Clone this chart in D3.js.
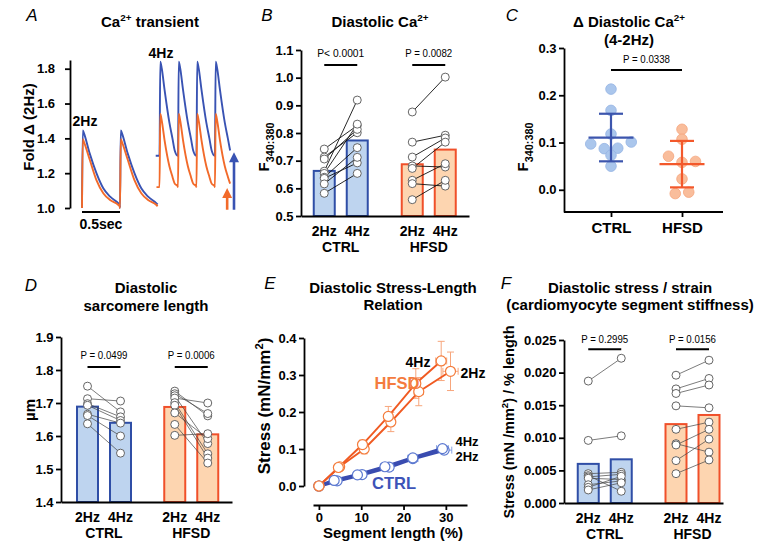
<!DOCTYPE html>
<html><head><meta charset="utf-8">
<script src="https://cdn.jsdelivr.net/npm/d3@7/dist/d3.min.js"></script>
<style>
body{margin:0;background:#fff;}
svg text{font-family:"Liberation Sans",Arial,Helvetica,sans-serif;}
</style></head>
<body>
<svg id="chart" width="760" height="557"></svg>
<script>
// ---------------- DATA ----------------
const groups = ["CTRL", "HFSD"];
const freqs = ["2Hz", "4Hz"];

// Panel A: Ca2+ transient (fold change vs 2Hz), one beat shape per rate
const foldTicks = [1.0, 1.2, 1.4, 1.6, 1.8];
const beatTime2Hz = [0, 0.01, 0.025, 0.1, 0.19, 0.28, 0.37, 0.48, 0.495];
const beatCtrl2Hz = [1.0, 1.445, 1.43, 1.315, 1.2, 1.113, 1.065, 1.027, 1.02];
const beatHfsd2Hz = [1.0, 1.395, 1.38, 1.28, 1.16, 1.085, 1.046, 1.017, 1.01];
const beatTime4Hz = [0, 0.01, 0.03, 0.066, 0.13, 0.17, 0.2, 0.24];
const beatCtrl4Hz = [1.30, 1.84, 1.80, 1.68, 1.49, 1.40, 1.33, 1.30];
const beatHfsd4Hz = [1.12, 1.54, 1.50, 1.39, 1.24, 1.18, 1.14, 1.125];
const stimTimes2Hz = [0, 0.5];
const stimTimes4Hz = [1.02, 1.263, 1.506, 1.749];
const traceEnd4Hz = 1.95;
const arrowTimes = [1.91, 2.0];      // HFSD, CTRL
const arrowTops = [1.115, 1.32];

// Panel B: diastolic Ca2+ (F340:380)
const caTicks = [0.5, 0.6, 0.7, 0.8, 0.9, 1.0, 1.1];
const caCtrl2 = [0.742, 0.713, 0.706, 0.662, 0.654, 0.640, 0.636, 0.616, 0.582];
const caCtrl4 = [0.827, 0.801, 0.813, 0.919, 0.832, 0.747, 0.692, 0.712, 0.654];
const caHfsd2 = [0.876, 0.767, 0.713, 0.681, 0.672, 0.629, 0.617, 0.559];
const caHfsd4 = [1.002, 0.792, 0.782, 0.677, 0.767, 0.689, 0.608, 0.629];
const caMeans = [[0.663, 0.773], [0.687, 0.740]];
const caP = ["P< 0.0001", "P = 0.0082"];

// Panel C: delta diastolic Ca2+ (4-2Hz)
const deltaTicks = [0.0, 0.1, 0.2, 0.3];
const deltaCtrl = [0.213, 0.168, 0.118, 0.097, 0.087, 0.088, 0.101, 0.073, 0.050];
const deltaHfsd = [0.128, 0.107, 0.071, 0.058, 0.060, 0.023, -0.008, -0.005];
const deltaP = "P = 0.0338";

// Panel D: diastolic sarcomere length (µm)
const slTicks = [1.4, 1.5, 1.6, 1.7, 1.8, 1.9];
const slCtrl2 = [1.751, 1.713, 1.698, 1.693, 1.666, 1.662, 1.637];
const slCtrl4 = [1.673, 1.706, 1.658, 1.647, 1.639, 1.600, 1.548];
const slHfsd2 = [1.736, 1.728, 1.722, 1.715, 1.701, 1.693, 1.670, 1.635, 1.602];
const slHfsd4 = [1.661, 1.668, 1.577, 1.700, 1.546, 1.533, 1.592, 1.518, 1.607];
const slMeans = [[1.689, 1.640], [1.688, 1.605]];
const slP = ["P = 0.0499", "P = 0.0006"];

// Panel E: stress-length relation (mean ± SEM)
const lenTicks = [0, 10, 20, 30];
const stressTicks = [0, 0.1, 0.2, 0.3, 0.4];
const slrHfsd2Len = [0, 4.9, 10.7, 17.0, 23.6, 31.1];
const slrHfsd2Stress = [0, 0.052, 0.100, 0.173, 0.255, 0.310];
const slrHfsd2LenErr = [0, 0.5, 0.7, 0.9, 1.1, 1.8];
const slrHfsd2StressErr = [0, 0.004, 0.013, 0.026, 0.038, 0.052];
const slrHfsd4Len = [0, 4.6, 10.3, 16.4, 22.9, 28.9];
const slrHfsd4Stress = [0, 0.050, 0.112, 0.188, 0.277, 0.338];
const slrHfsd4LenErr = [0, 0.5, 0.6, 0.8, 1.0, 1.3];
const slrHfsd4StressErr = [0, 0.004, 0.012, 0.027, 0.040, 0.053];
const slrCtrl2Len = [0, 4.3, 10.2, 16.6, 22.2, 29.6];
const slrCtrl2Stress = [0, 0.014, 0.031, 0.051, 0.074, 0.097];
const slrCtrl2LenErr = [0, 0.8, 0.9, 1.0, 1.2, 1.8];
const slrCtrl2StressErr = [0, 0.002, 0.003, 0.004, 0.007, 0.010];
const slrCtrl4Len = [0, 3.6, 9.1, 15.6, 22.2, 29.2];
const slrCtrl4Stress = [0, 0.015, 0.030, 0.052, 0.076, 0.101];
const slrCtrl4LenErr = [0, 0.7, 0.8, 1.0, 1.1, 1.4];
const slrCtrl4StressErr = [0, 0.002, 0.003, 0.004, 0.006, 0.009];

// Panel F: stress / strain
const stTicks = [0, 0.005, 0.010, 0.015, 0.020, 0.025];
const stCtrl2 = [0.0187, 0.0096, 0.0045, 0.0042, 0.0040, 0.0038, 0.0028, 0.0024, 0.0020];
const stCtrl4 = [0.0222, 0.0103, 0.0047, 0.0018, 0.0044, 0.0036, 0.0034, 0.0041, 0.0031];
const stHfsd2 = [0.0196, 0.0175, 0.0168, 0.0149, 0.0113, 0.0091, 0.0089, 0.0065, 0.0045];
const stHfsd4 = [0.0219, 0.0191, 0.0181, 0.0146, 0.0124, 0.0078, 0.0113, 0.0098, 0.0066];
const stMeans = [[0.0060, 0.0067], [0.0121, 0.0135]];
const stP = ["P = 0.2995", "P = 0.0156"];

// ---------------- DRAWING ----------------
const svg = d3.select("#chart");
const C_BLUE = "#2f4ea6", C_ORANGE = "#f0502a";
const F_BLUE = "#bed4ef", F_ORANGE = "#fdd5b0";
const T_BLUE = "#3953b3", T_ORANGE = "#f26a2a";

function styleAxis(a, fs) {
  a.attr("font-family", null).attr("font-size", null);
  a.select(".domain").attr("stroke", "#000").attr("stroke-width", 1.8);
  a.selectAll(".tick line").attr("stroke", "#000").attr("stroke-width", 1.8);
  a.selectAll(".tick text").attr("fill", "#000").attr("font-size", fs || 13).attr("font-weight", "bold");
  return a;
}
function yAxis(x, scale, ticks, fmt, pad) {
  const a = svg.append("g").attr("transform", `translate(${x},0)`)
    .call(d3.axisLeft(scale).tickValues(ticks).tickFormat(d3.format(fmt))
      .tickSize(5).tickPadding(pad === undefined ? 2.5 : pad).tickSizeOuter(0));
  return styleAxis(a);
}
function hLine(x0, x1, y) {
  const s = d3.scaleLinear().range([x0, x1]);
  const a = svg.append("g").attr("transform", `translate(0,${y})`)
    .call(d3.axisBottom(s).tickValues([]).tickSizeOuter(0));
  styleAxis(a);
}
function txt(x, y, parts, o = {}) {
  const size = o.size || 14;
  const t = svg.append("text")
    .attr("text-anchor", o.anchor || "middle")
    .attr("font-size", size).attr("font-weight", o.weight || "bold")
    .attr("font-style", o.style || "normal")
    .attr("fill", o.fill || "#000");
  if (o.rotate) t.attr("transform", `translate(${x},${y}) rotate(-90)`);
  else t.attr("x", x).attr("y", y);
  if (o.length) t.attr("textLength", o.length).attr("lengthAdjust", "spacingAndGlyphs");
  if (typeof parts === "string") parts = [[parts]];
  let shift = 0;
  parts.forEach(p => {
    let target = 0, fs = size;
    if (p[1] === "sup") { target = -size * 0.4; fs = size * 0.66; }
    if (p[1] === "sub") { target = size * 0.3; fs = size * 0.72; }
    const ts = t.append("tspan").text(p[0]).attr("font-size", fs);
    if (target - shift !== 0) ts.attr("dy", target - shift);
    shift = target;
  });
  return t;
}

// panel letters
[["A", 32, 21], ["B", 267, 21], ["C", 512, 21], ["D", 31, 291], ["E", 270, 289], ["F", 506, 289]]
  .forEach(l => txt(l[1], l[2], l[0], {size: 17, weight: "normal", style: "italic"}));

// ===== Panel A =====
(function () {
  const y = d3.scaleLinear().domain([1.0, 1.85]).range([208, 60]);
  const x = d3.scaleLinear().domain([0, 1]).range([82, 158]);
  yAxis(70, y, foldTicks, ".1f", 10);
  function trace(starts, times, vals, lead, end) {
    const pts = [];
    if (lead) pts.push([starts[0] - lead, vals[0]]);
    starts.forEach(s => times.forEach((t, i) => {
      if (end === undefined || s + t <= end + 1e-9) pts.push([s + t, vals[i]]);
    }));
    return pts;
  }
  const line = d3.line().x(d => x(d[0])).y(d => y(d[1])).curve(d3.curveMonotoneX);
  const series = [
    [trace(stimTimes2Hz, beatTime2Hz, beatCtrl2Hz), T_BLUE],
    [trace(stimTimes4Hz, beatTime4Hz, beatCtrl4Hz, 0.05, traceEnd4Hz), T_BLUE],
    [trace(stimTimes2Hz, beatTime2Hz, beatHfsd2Hz), T_ORANGE],
    [trace(stimTimes4Hz, beatTime4Hz, beatHfsd4Hz, 0.04, traceEnd4Hz), T_ORANGE]
  ];
  series.forEach(s => svg.append("path").attr("d", line(s[0])).attr("fill", "none")
    .attr("stroke", s[1]).attr("stroke-width", 1.9).attr("stroke-linejoin", "round"));
  // arrows
  [T_ORANGE, T_BLUE].forEach((c, i) => {
    const ax = x(arrowTimes[i]), top = y(arrowTops[i]), bot = y(0.99);
    svg.append("line").attr("x1", ax).attr("x2", ax).attr("y1", bot).attr("y2", top + 8)
      .attr("stroke", c).attr("stroke-width", 2.6);
    svg.append("path").attr("d", `M${ax - 5},${top + 10}L${ax},${top}L${ax + 5},${top + 10}Z`).attr("fill", c);
  });
  // scale bar 0.5 s
  svg.append("line").attr("x1", x(0)).attr("x2", x(0.5)).attr("y1", y(1.0) + 4).attr("y2", y(1.0) + 4)
    .attr("stroke", "#000").attr("stroke-width", 2);
  txt(x(0.25), 229, "0.5sec", {size: 14});
  txt(85, 126, "2Hz", {size: 14});
  txt(161, 58, "4Hz", {size: 14});
  txt(150, 27, [["Ca"], ["2+", "sup"], [" transient"]], {size: 15});
  txt(34, 127, "Fold Δ (2Hz)", {size: 15, rotate: true});
})();

// ===== bar panels (B, D, F) =====
function barPanel(o) {
  const y = d3.scaleLinear().domain(o.yDomain).range(o.yRange);
  const gx = d3.scalePoint().domain(groups).range(o.groupRange);
  const fx = d3.scalePoint().domain(freqs).range([-16.5, 16.5]);
  const bw = 21;
  groups.forEach((grp, gi) => {
    const xs = freqs.map(f => gx(grp) + fx(f));
    freqs.forEach((f, fi) => {
      const m = o.means[gi][fi];
      svg.append("rect").attr("x", xs[fi] - bw / 2).attr("y", y(m)).attr("width", bw)
        .attr("height", y(o.yDomain[0]) - y(m))
        .attr("fill", [F_BLUE, F_ORANGE][gi]).attr("stroke", [C_BLUE, C_ORANGE][gi]).attr("stroke-width", 2);
    });
    const a = o.values[gi][0], b = o.values[gi][1];
    svg.append("g").selectAll("line").data(a).join("line")
      .attr("x1", xs[0]).attr("x2", xs[1]).attr("y1", d => y(d)).attr("y2", (d, i) => y(b[i]))
      .attr("stroke", o.lineColor).attr("stroke-width", o.lineWidth);
    [a, b].forEach((arr, k) => svg.append("g").selectAll("circle").data(arr).join("circle")
      .attr("cx", xs[k]).attr("cy", d => y(d)).attr("r", 4)
      .attr("fill", "#fff").attr("stroke", "#555").attr("stroke-width", 0.9));
    svg.append("line").attr("x1", xs[0]).attr("x2", xs[1]).attr("y1", y(o.pLine)).attr("y2", y(o.pLine))
      .attr("stroke", "#000").attr("stroke-width", 2);
    txt(gx(grp), y(o.pText), o.pvals[gi], {size: 11, weight: "normal", length: 47});
    freqs.forEach((f, fi) => txt(xs[fi], y(o.yDomain[0]) + 19.5, f, {size: 14}));
    txt(gx(grp), y(o.yDomain[0]) + 36, grp, {size: 14});
  });
  yAxis(o.axisX, y, o.ticks, o.fmt);
  hLine(o.axisX, o.axisEnd, y(o.yDomain[0]));
  return y;
}

// B
barPanel({yDomain: [0.5, 1.1], yRange: [216, 50], groupRange: [340.75, 428.75], axisX: 301, axisEnd: 469,
  ticks: caTicks, fmt: ".1f", means: caMeans, values: [[caCtrl2, caCtrl4], [caHfsd2, caHfsd4]],
  lineColor: "#111", lineWidth: 0.9, pLine: 1.046, pText: 1.075, pvals: caP});
txt(380, 27, [["Diastolic Ca"], ["2+", "sup"]], {size: 15});
txt(269, 147, [["F"], ["340:380", "sub"]], {size: 15, rotate: true});

// D
barPanel({yDomain: [1.4, 1.9], yRange: [502, 337], groupRange: [104, 191.25], axisX: 61, axisEnd: 232,
  ticks: slTicks, fmt: ".1f", means: slMeans, values: [[slCtrl2, slCtrl4], [slHfsd2, slHfsd4]],
  lineColor: "#444", lineWidth: 0.7, pLine: 1.809, pText: 1.833, pvals: slP});
txt(146, 293, "Diastolic", {size: 15});
txt(146, 311, "sarcomere length", {size: 15});
txt(35, 410, "µm", {size: 15, rotate: true});

// F
barPanel({yDomain: [0, 0.025], yRange: [503, 340], groupRange: [604.75, 692.5], axisX: 564, axisEnd: 723,
  ticks: stTicks, fmt: ".3f", means: stMeans, values: [[stCtrl2, stCtrl4], [stHfsd2, stHfsd4]],
  lineColor: "#444", lineWidth: 0.7, pLine: 0.0236, pText: 0.02453, pvals: stP});
txt(630, 293, "Diastolic stress / strain", {size: 15});
txt(630, 310, "(cardiomyocyte segment stiffness)", {size: 15});
txt(514, 422, [["Stress (mN /mm"], ["2", "sup"], [") / % length"]], {size: 14.5, rotate: true});

// ===== Panel C =====
(function () {
  const y = d3.scaleLinear().domain([-0.047, 0.3]).range([212, 48]);
  const x = d3.scalePoint().domain(groups).range([611, 682]);
  function swarm(values, step, gapPx) {
    const idx = values.map((v, i) => i).sort((a, b) => values[a] - values[b]);
    const bins = []; let cur = [idx[0]];
    for (let k = 1; k < idx.length; k++) {
      if (Math.abs(y(values[idx[k]]) - y(values[idx[k - 1]])) < gapPx) cur.push(idx[k]);
      else { bins.push(cur); cur = [idx[k]]; }
    }
    bins.push(cur);
    const off = new Array(values.length).fill(0);
    bins.forEach(b => { b.sort((p, q) => p - q); b.forEach((i, j) => off[i] = (j - (b.length - 1) / 2) * step); });
    return off;
  }
  const sets = [deltaCtrl, deltaHfsd];
  const pf = ["#aac6ec", "#f9bd9b"], ps = ["#95b4e3", "#f5a47c"], lc = ["#3c55ad", "#f3582b"];
  sets.forEach((vals, gi) => {
    const cx = x(groups[gi]);
    const off = swarm(vals, 13.5, 5.5);
    svg.append("g").selectAll("circle").data(vals).join("circle")
      .attr("cx", (d, i) => cx + off[i]).attr("cy", d => y(d)).attr("r", 5.3)
      .attr("fill", pf[gi]).attr("stroke", ps[gi]).attr("stroke-width", 0.8);
    const m = d3.mean(vals), sd = d3.deviation(vals);
    const g = svg.append("g").attr("stroke", lc[gi]).attr("stroke-width", 2.2);
    g.append("line").attr("x1", cx).attr("x2", cx).attr("y1", y(m - sd)).attr("y2", y(m + sd));
    g.append("line").attr("x1", cx - 22.5).attr("x2", cx + 22.5).attr("y1", y(m)).attr("y2", y(m));
    [m - sd, m + sd].forEach(v => g.append("line").attr("x1", cx - 12).attr("x2", cx + 12).attr("y1", y(v)).attr("y2", y(v)));
  });
  yAxis(564, y, deltaTicks, ".1f");
  const ax = svg.append("g").attr("transform", "translate(0,212)")
    .call(d3.axisBottom(x).tickSize(5).tickPadding(5).tickSizeOuter(0));
  styleAxis(ax, 15);
  ax.select(".domain").attr("d", "M564,0H723");
  svg.append("line").attr("x1", x("CTRL")).attr("x2", x("HFSD")).attr("y1", 70).attr("y2", 70)
    .attr("stroke", "#000").attr("stroke-width", 2);
  txt((x("CTRL") + x("HFSD")) / 2, 63, deltaP, {size: 11, weight: "normal", length: 47});
  txt(629, 27, [["Δ Diastolic Ca"], ["2+", "sup"]], {size: 15});
  txt(629, 45, "(4-2Hz)", {size: 15});
  txt(528, 147, [["F"], ["340:380", "sub"]], {size: 15, rotate: true});
})();

// ===== Panel E =====
(function () {
  const x = d3.scaleLinear().domain([-1.4, 35]).range([313, 467]);
  const y = d3.scaleLinear().domain([0, 0.4]).range([486, 338]);
  const series = [
    {len: slrCtrl2Len, st: slrCtrl2Stress, le: slrCtrl2LenErr, se: slrCtrl2StressErr, line: "#3a4cb0", err: "#8aa3e2", pt: "#5b78d0", w: 3.4},
    {len: slrCtrl4Len, st: slrCtrl4Stress, le: slrCtrl4LenErr, se: slrCtrl4StressErr, line: "#3a4cb0", err: "#8aa3e2", pt: "#5b78d0", w: 3.4},
    {len: slrHfsd2Len, st: slrHfsd2Stress, le: slrHfsd2LenErr, se: slrHfsd2StressErr, line: "#f05a22", err: "#f7a67c", pt: "#f47c3c", w: 1.9},
    {len: slrHfsd4Len, st: slrHfsd4Stress, le: slrHfsd4LenErr, se: slrHfsd4StressErr, line: "#f05a22", err: "#f7a67c", pt: "#f47c3c", w: 1.9}
  ];
  series.forEach(s => {
    const g = svg.append("g").attr("stroke", s.err).attr("stroke-width", 1);
    s.len.forEach((L, i) => {
      const cx = x(L), cy = y(s.st[i]);
      if (s.se[i] > 0) {
        const y0 = y(s.st[i] - s.se[i]), y1 = y(s.st[i] + s.se[i]);
        g.append("line").attr("x1", cx).attr("x2", cx).attr("y1", y0).attr("y2", y1);
        g.append("line").attr("x1", cx - 3.5).attr("x2", cx + 3.5).attr("y1", y0).attr("y2", y0);
        g.append("line").attr("x1", cx - 3.5).attr("x2", cx + 3.5).attr("y1", y1).attr("y2", y1);
      }
      if (s.le[i] > 0) {
        const x0 = x(L - s.le[i]), x1 = x(L + s.le[i]);
        g.append("line").attr("x1", x0).attr("x2", x1).attr("y1", cy).attr("y2", cy);
        g.append("line").attr("x1", x0).attr("x2", x0).attr("y1", cy - 3.5).attr("y2", cy + 3.5);
        g.append("line").attr("x1", x1).attr("x2", x1).attr("y1", cy - 3.5).attr("y2", cy + 3.5);
      }
    });
  });
  const line = d3.line().x(d => x(d[0])).y(d => y(d[1]));
  series.forEach(s => svg.append("path").attr("d", line(s.len.map((L, i) => [L, s.st[i]])))
    .attr("fill", "none").attr("stroke", s.line).attr("stroke-width", s.w));
  series.forEach(s => svg.append("g").selectAll("circle").data(s.len).join("circle")
    .attr("cx", d => x(d)).attr("cy", (d, i) => y(s.st[i])).attr("r", 5)
    .attr("fill", "#fff").attr("stroke", s.pt).attr("stroke-width", 1.2));
  const ya = svg.append("g").attr("transform", "translate(304,0)")
    .call(d3.axisLeft(y).tickValues(stressTicks).tickFormat(d3.format(".1f")).tickSize(5).tickPadding(2.5).tickSizeOuter(0));
  styleAxis(ya);
  const xa = svg.append("g").attr("transform", "translate(0,505)")
    .call(d3.axisBottom(x).tickValues(lenTicks).tickSize(5).tickPadding(3).tickSizeOuter(0));
  styleAxis(xa);
  txt(393, 538, "Segment length (%)", {size: 15});
  txt(270, 406, [["Stress (mN/mm"], ["2", "sup"], [")"]], {size: 17, rotate: true});
  txt(393, 293, "Diastolic Stress-Length", {size: 15});
  txt(393, 310, "Relation", {size: 15});
  txt(418, 367, "4Hz", {size: 14});
  txt(397, 389, "HFSD", {size: 16.5, fill: "#f47b3e"});
  txt(473, 378, "2Hz", {size: 14});
  txt(467, 446, "4Hz", {size: 13});
  txt(467, 461, "2Hz", {size: 13});
  txt(394, 489, "CTRL", {size: 16.5, fill: "#3d53b8"});
})();
</script>
</body></html>
